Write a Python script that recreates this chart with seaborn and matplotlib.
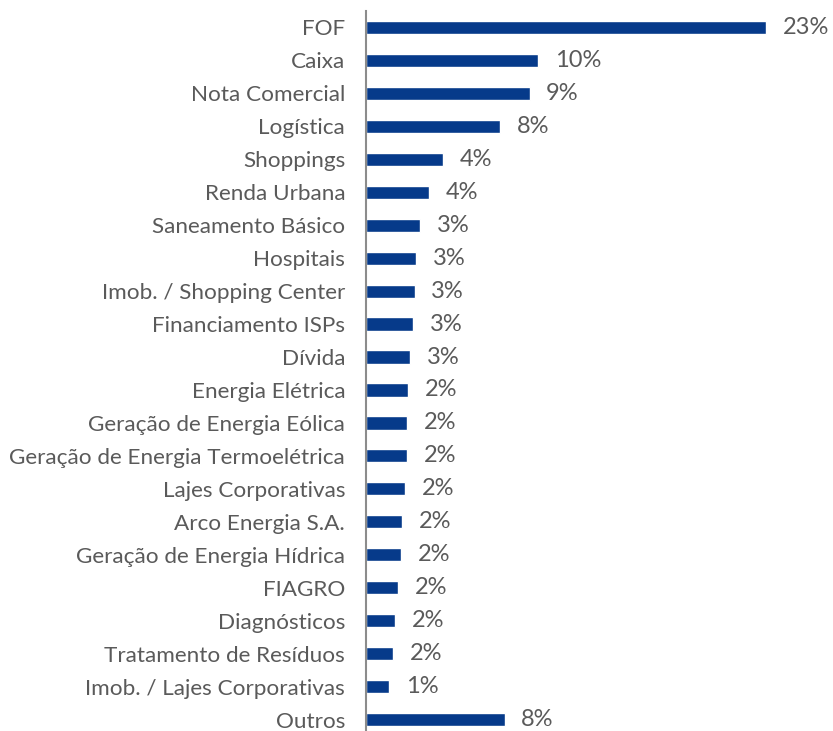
import pandas as pd
import seaborn as sns
import matplotlib.pyplot as plt

# Data (% of portfolio)
categorias = ['FOF', 'Caixa', 'Nota Comercial', 'Logística', 'Shoppings', 'Renda Urbana',
              'Saneamento Básico', 'Hospitais', 'Imob. / Shopping Center', 'Financiamento ISPs',
              'Dívida', 'Energia Elétrica', 'Geração de Energia Eólica',
              'Geração de Energia Termoelétrica', 'Lajes Corporativas', 'Arco Energia S.A.',
              'Geração de Energia Hídrica', 'FIAGRO', 'Diagnósticos', 'Tratamento de Resíduos',
              'Imob. / Lajes Corporativas', 'Outros']
valores = [23.0, 9.9, 9.4, 7.7, 4.45, 3.6, 3.1, 2.9, 2.8, 2.7, 2.55, 2.4, 2.35, 2.35,
           2.26, 2.09, 2.0, 1.84, 1.65, 1.57, 1.34, 7.97]
rotulos = ['23%', '10%', '9%', '8%', '4%', '4%', '3%', '3%', '3%', '3%', '3%', '2%', '2%',
           '2%', '2%', '2%', '2%', '2%', '2%', '2%', '1%', '8%']

df = pd.DataFrame({'categoria': categorias, 'valor': valores})

sns.set_style('white')
plt.rcParams['font.family'] = ['Lato', 'DejaVu Sans']

fig = plt.figure(figsize=(8.33, 7.31), dpi=100)
# axis line starts ~11px from the top, last row slightly cut at the bottom
ax = fig.add_axes([366/833, -5/731, 467/833, 725/731])

sns.barplot(data=df, y='categoria', x='valor', orient='h', color='#063A8A',
            width=0.4, saturation=1, ax=ax)

ax.bar_label(ax.containers[0], labels=rotulos, padding=12, fontsize=17,
             color='#5a5a5a')

ax.set_xlim(0, 467/17.4)
ax.set_ylim(len(categorias) - 0.5, -0.5)
ax.set_xlabel('')
ax.set_ylabel('')
ax.set_xticks([])
ax.tick_params(axis='y', length=0, pad=15, labelsize=16.2, labelcolor='#5a5a5a')

for s in ['top', 'right', 'bottom']:
    ax.spines[s].set_visible(False)
ax.spines['left'].set_color('#8c8c8c')
ax.spines['left'].set_linewidth(1.5)

fig.savefig('out.png', dpi=100)
